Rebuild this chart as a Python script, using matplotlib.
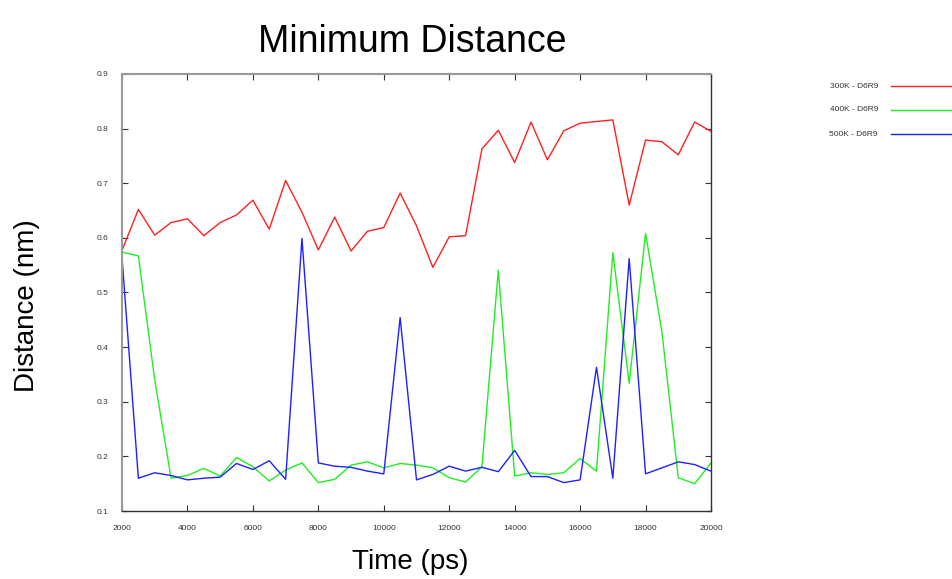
import matplotlib
matplotlib.use("Agg")
import matplotlib.pyplot as plt
from matplotlib.lines import Line2D
import numpy as np

time_ps = list(range(2000, 20001, 500))

d300 = [0.577, 0.652, 0.605, 0.628, 0.635, 0.604, 0.628, 0.642, 0.669, 0.616,
        0.705, 0.647, 0.578, 0.638, 0.576, 0.612, 0.619, 0.682, 0.622, 0.546,
        0.602, 0.604, 0.763, 0.797, 0.738, 0.812, 0.743, 0.796, 0.810, 0.813,
        0.816, 0.660, 0.779, 0.776, 0.752, 0.812, 0.795]
d400 = [0.574, 0.567, 0.340, 0.160, 0.165, 0.178, 0.164, 0.198, 0.181, 0.155,
        0.175, 0.188, 0.152, 0.158, 0.184, 0.190, 0.179, 0.187, 0.184, 0.179,
        0.161, 0.153, 0.181, 0.541, 0.164, 0.170, 0.167, 0.170, 0.196, 0.173,
        0.573, 0.334, 0.608, 0.428, 0.161, 0.150, 0.188]
d500 = [0.565, 0.160, 0.170, 0.165, 0.157, 0.160, 0.162, 0.187, 0.176, 0.192,
        0.158, 0.599, 0.188, 0.182, 0.180, 0.173, 0.168, 0.454, 0.157, 0.167,
        0.182, 0.173, 0.180, 0.172, 0.211, 0.163, 0.163, 0.152, 0.157, 0.363,
        0.160, 0.562, 0.168, 0.179, 0.190, 0.185, 0.173]

labels = ["300K - D6R9", "400K - D6R9", "500K - D6R9"]
colors = ["#ff2020", "#20ee20", "#2020ff"]
xticks = list(range(2000, 20001, 2000))
yticks = [0.1, 0.2, 0.3, 0.4, 0.5, 0.6, 0.7, 0.8, 0.9]

plt.rcParams['font.family'] = ['Liberation Sans', 'DejaVu Sans']

W, H = 953, 579
fig = plt.figure(figsize=(W / 100, H / 100), dpi=100)
L, R, T, B = 122, 711, 74, 511
ax = fig.add_axes([L / W, 1 - B / H, (R - L) / W, (B - T) / H])

for series, c in zip([d300, d400, d500], colors):
    ax.plot(time_ps, series, color=c, lw=1.0)

ax.set_xlim(2000, 20000)
ax.set_ylim(0.1, 0.9)
ax.set_xticks(xticks)
ax.set_xticklabels([str(v) for v in xticks])
ax.set_yticks(yticks)
ax.set_yticklabels([f"{v:g}" for v in yticks])
ax.tick_params(direction='in', length=4, width=0.8, top=True, right=True,
               labelsize=6, pad=10, colors='#333333')

for s in ['left', 'top']:
    ax.spines[s].set_color('#999999')
    ax.spines[s].set_linewidth(1.5)
for s in ['right', 'bottom']:
    ax.spines[s].set_color('#333333')
    ax.spines[s].set_linewidth(1.0)

fig.text(412.5 / W, 1 - 52 / H, "Minimum Distance", fontsize=27, ha='center', va='baseline')
fig.text(410 / W, 1 - 569 / H, "Time (ps)", fontsize=20, ha='center', va='baseline')
fig.text(27 / W, 1 - 306 / H, "Distance (nm)", fontsize=20, ha='center', va='center',
         rotation=90)

for i, (lab, c) in enumerate(zip(labels, colors)):
    y = 1 - (86 + 24 * i) / H
    fig.text(878 / W, y, lab, fontsize=6, ha='right', va='center', color='#333333')
    fig.add_artist(Line2D([891 / W, 951 / W], [y, y], transform=fig.transFigure,
                          color=c, lw=1.0))

fig.savefig("out.png", dpi=100)
